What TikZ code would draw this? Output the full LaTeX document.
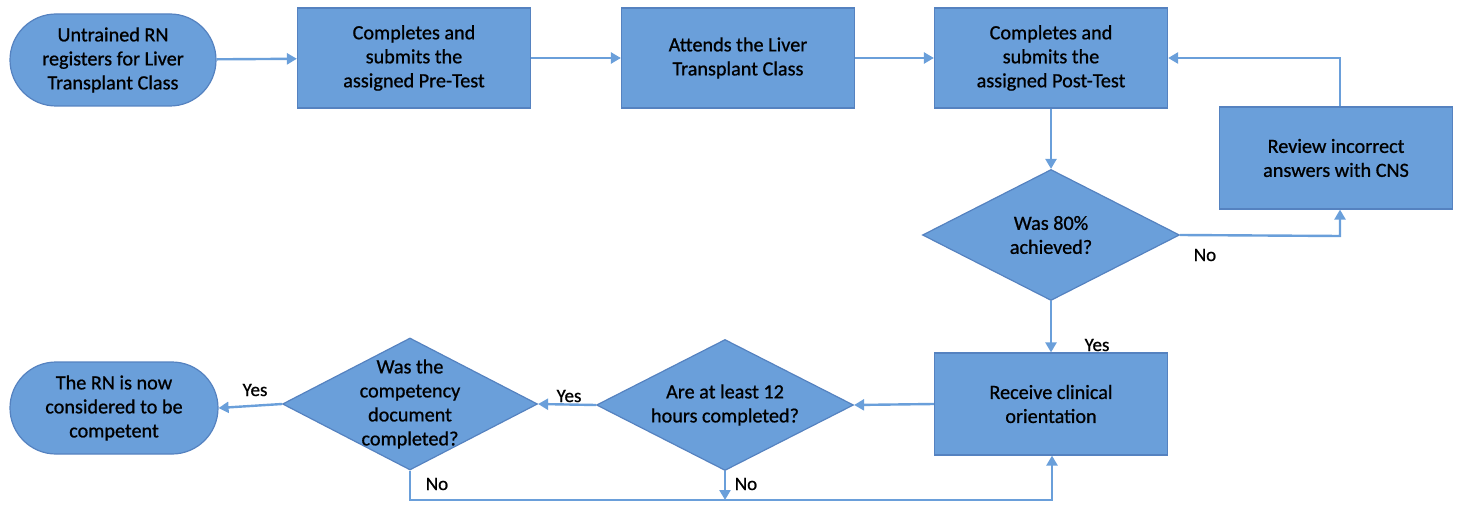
\documentclass[tikz,border=0pt]{standalone}
\usepackage{fontspec}
\setmainfont{Carlito}[FakeBold=0.8]
\usetikzlibrary{shapes.geometric,shapes.misc,arrows.meta}
\definecolor{boxfill}{HTML}{6A9FDA}
\definecolor{boxedge}{HTML}{5582C0}
\definecolor{linec}{HTML}{6A9FDA}
\tikzset{
  every node/.style={font=\fontsize{20.2}{24}\selectfont, align=center, text=black},
  procbox/.style={draw=boxedge, line width=1.2pt, fill=boxfill, rectangle, minimum width=233pt, minimum height=100pt, inner sep=2pt},
  termbox/.style={draw=boxedge, line width=1.2pt, fill=boxfill, rounded rectangle, minimum width=210pt, minimum height=92pt, inner sep=2pt},
  decbox/.style={draw=boxedge, line width=1.2pt, fill=boxfill, diamond, aspect=1.96, minimum width=257pt, minimum height=131pt, inner sep=-30pt},
  conn/.style={draw=linec, line width=2.4pt, -{Triangle[length=10pt,width=11pt]}},
  lbl/.style={font=\fontsize{19}{22}\selectfont}
}
\begin{document}
\begin{tikzpicture}[x=1pt,y=-1pt]
\useasboundingbox (0,0) rectangle (1461,508);
\node[termbox] (n1) at (113,60) {Untrained RN\\registers for Liver\\Transplant Class};
\node[procbox] (n2) at (414,58) {Completes and\\submits the\\assigned Pre-Test};
\node[procbox] (n3) at (738,58) {Attends the Liver\\Transplant Class};
\node[procbox] (n4) at (1051,58) {Completes and\\submits the\\assigned Post-Test};
\node[procbox, minimum height=102pt] (rev) at (1336,158) {Review incorrect\\answers with CNS};
\node[decbox] (d80) at (1051,235) {Was 80\%\\achieved?};
\node[procbox, minimum height=102pt] (rec) at (1051,404) {Receive clinical\\orientation};
\node[decbox] (d12) at (725,405) {Are at least 12\\hours completed?};
\node[decbox, minimum width=255pt, minimum height=132pt] (dcomp) at (410,404) {Was the\\competency\\document\\completed?};
\node[termbox, minimum width=212pt] (fin) at (114,408) {The RN is now\\considered to be\\competent};

\coordinate (c1) at (1340,236);
\coordinate (c2) at (1340,58);
\coordinate (c3) at (410,500);
\coordinate (c4) at (725,500);
\coordinate (c5) at (1052,500);

\draw[conn] (n1) -- (n2);
\draw[conn] (n2) -- (n3);
\draw[conn] (n3) -- (n4);
\draw[conn] (n4) -- (d80);
\draw[conn] (d80.east) -- (c1) -- (rev.south -| c1);
\draw[conn] (rev.north -| c2) -- (c2) -- (n4.east |- c2);
\draw[conn] (d80) -- (rec);
\draw[conn] (rec.west) -- (d12.east);
\draw[conn] (d12.west) -- (dcomp.east);
\draw[conn] (dcomp.west) -- (fin.east);
\draw[conn] (d12.south) -- (c4);
\draw[conn] (dcomp.south) -- (c3) -- (c5) -- (rec.south -| c5);

\node[lbl] (lno1) at (1205,255) {No};
\node[lbl] (lyes1) at (1097,345) {Yes};
\node[lbl] (lyes2) at (569,396) {Yes};
\node[lbl] (lyes3) at (255,390) {Yes};
\node[lbl] (lno2) at (437,484) {No};
\node[lbl] (lno3) at (746,484) {No};
\end{tikzpicture}
\end{document}
